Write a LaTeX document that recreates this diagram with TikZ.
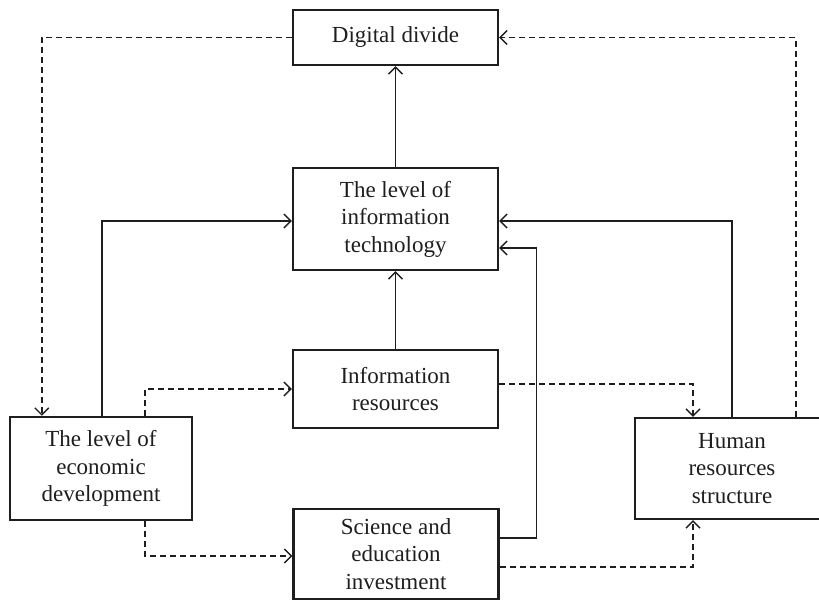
\documentclass[tikz,border=0pt]{standalone}
\usepackage{fontspec}
\setmainfont{Liberation Serif}
\usetikzlibrary{arrows.meta}
\definecolor{ink}{HTML}{1E1E1E}
\tikzset{
  box/.style={draw=ink, line width=2.4pt, rectangle, align=center, inner sep=0pt,
    font=\fontsize{23}{27.5}\selectfont, text=ink},
  link/.style={draw=ink, line width=1.5pt, -{Straight Barb[length=7pt,width=14pt,line width=1.4pt]}},
  dlink/.style={link, dash pattern=on 6pt off 4pt},
}
\begin{document}
\begin{tikzpicture}[x=1pt,y=-1pt]
\clip (0,0) rectangle (819,601);
\useasboundingbox (0,0) rectangle (819,601);
\node[box, minimum width=205pt, minimum height=55pt] (dd) at (395.5,37.5) {Digital divide};
\node[box, minimum width=205pt, minimum height=102pt] (it) at (395.5,219) {The level of\\information\\technology};
\node[box, minimum width=205pt, minimum height=78pt] (info) at (395.5,389) {Information\\resources};
\node[box, minimum width=182pt, minimum height=103pt] (econ) at (101,468.5) {The level of\\economic\\development};
\node[box, minimum width=205pt, minimum height=90pt] (sci) at (396,554) {Science and\\education\\investment};
\node[box, minimum width=194pt, minimum height=101pt] (hum) at (732,468.5) {Human\\resources\\structure};

\draw[link] (it.north) -- (dd.south);
\draw[link] (info.north) -- (it.south);
\draw[link] ([xshift=1pt]econ.north) |- ([yshift=-2pt]it.west);
\draw[link] (hum.north) |- ([yshift=-2pt]it.east);
\draw[link] ([yshift=16pt]sci.east) -- ++(37,0) |- ([yshift=-29pt]it.east);

\draw[dlink] (dd.west) -| ([xshift=33pt]econ.north west);
\draw[dlink] ([xshift=64pt]hum.north) |- (dd.east);
\draw[dlink] ([xshift=44pt]econ.north) |- (info.west);
\draw[dlink] ([xshift=44pt]econ.south) |- ([yshift=-2pt]sci.west);
\draw[dlink] ([yshift=5pt]info.east) -| ([xshift=-39pt]hum.north);
\draw[dlink] ([yshift=-13pt]sci.east) -| ([xshift=-39pt]hum.south);
\end{tikzpicture}
\end{document}
